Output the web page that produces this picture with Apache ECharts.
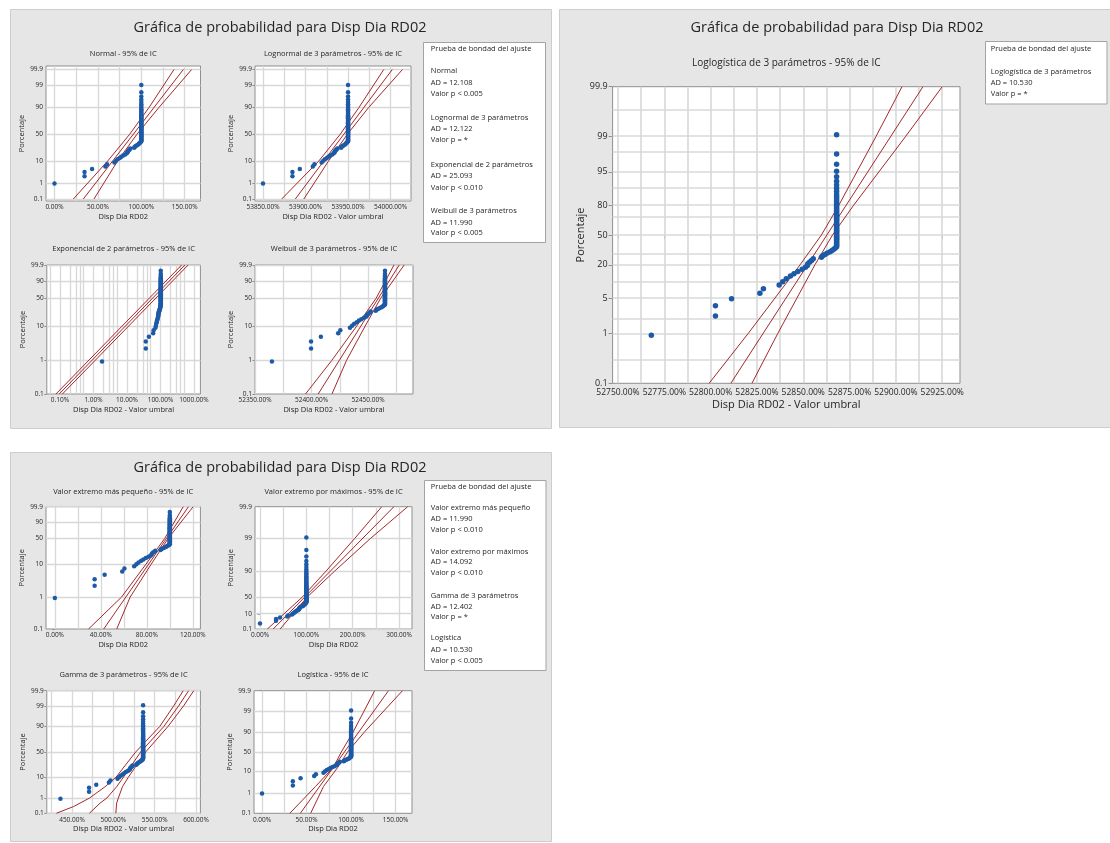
<!DOCTYPE html>
<html><head><meta charset="utf-8">
<script src="https://cdn.jsdelivr.net/npm/echarts@6/dist/echarts.min.js"></script>
<style>html,body{margin:0;padding:0;background:#fff}#c{width:1110px;height:843px}</style>
</head><body><div id="c"></div>
<script>
// ===================== DATA =====================
// Disp Dia RD02 observations (%), sorted, 75 values
const dispValues = [0,34.6,34.6,43.3,58.6,60.5,69,70.9,72.8,75.1,77,79.1,81.4,83.2,84.2,84.5,85.5,86.5,87.4,91.8,92.5,93.7,95,96.5,97.5,98.5,99.3,
 100,100,100,100,100,100,100,100,100,100,100,100,100,100,100,100,100,100,100,100,100,100,100,100,100,100,100,100,
 100,100,100,100,100,100,100,100,100,100,100,100,100,100,100,100,100,100,100,100];
// plotted percentage (median rank) of each observation
const plotPercent = [0.93,2.25,3.58,4.91,6.23,7.56,8.89,10.21,11.54,12.86,14.19,15.52,16.84,18.17,19.50,20.82,22.15,23.47,24.80,26.13,
 27.45,28.78,30.11,31.43,32.76,34.08,35.41,36.74,38.06,39.39,40.72,42.04,43.37,44.69,46.02,47.35,48.67,50.00,51.33,52.65,
 53.98,55.31,56.63,57.96,59.28,60.61,61.94,63.26,64.59,65.92,67.24,68.57,69.89,71.22,72.55,73.87,75.20,76.53,77.85,79.18,
 80.50,81.83,83.16,84.48,85.81,87.14,88.46,89.79,91.11,92.44,93.77,95.09,96.42,97.75,99.07];

// thresholds (valor umbral) per distribution, x plotted = value - threshold
const thrNormal = 0, thrLognormal = -53850, thrExpo = -1.8, thrWeibull = -52365;
const thrSEV = 0, thrLEV = 0, thrGamma = -436, thrLogistic = 0, thrLoglogistic = -52768;

// fitted lines and 95% CI bounds: [x, percent]
const normalFit = [[33.2,0.1],[148.4,99.9]];
const normalLo  = [[21.7,0.1],[61.2,10],[86.6,50],[109,90],[137.7,99.9]];
const normalHi  = [[45.5,0.1],[72.6,10],[95,50],[120.4,90],[158,99.9]];
const lognormFit = [[53888,0.1],[54002,99.9]];
const lognormLo  = [[53872,0.1],[53915.5,10],[53940.8,50],[53962.9,90],[53992,99.9]];
const lognormHi  = [[53898,0.1],[53927,10],[53949.2,50],[53974.3,90],[54014,99.9]];
const expoFit = [[0.0946,0.1],[535,99.9]];
const expoLo  = [[0.0757,0.1],[428,99.9]];
const expoHi  = [[0.118,0.1],[669,99.9]];
const weibFit = [[52405.9,0.1],[52477.6,99.9]];
const weibLo  = [[52394.7,0.1],[52418,1],[52440,10],[52457,50],[52473,99.9]];
const weibHi  = [[52418.1,0.1],[52431,1],[52447.5,10],[52461,50],[52482,99.9]];
const sevFit = [[42.5,0.1],[116.2,99.9]];
const sevLo  = [[29.3,0.1],[58,1],[79,10],[95.5,50],[111.7,99.9]];
const sevHi  = [[53.8,0.1],[65.5,1],[83.6,10],[98.5,50],[120.3,99.9]];
const levFit = [[28.5,0.1],[289,99.9]];
const levLo  = [[15.9,0.1],[91,50],[142.5,90],[204,99],[262.8,99.9]];
const levHi  = [[43.4,0.1],[101.5,50],[161,90],[238,99],[318.7,99.9]];
const gammaFit = [[471,0.1],[484,0.5],[492,1],[504,4],[512,10],[533,50],[561,90],[579,99],[591,99.9]];
const gammaLo  = [[431,0.1],[452,0.3],[471,1],[490,4],[503,10],[527,50],[556,90],[573,99],[584.5,99.9]];
const gammaHi  = [[503,0.1],[504,0.5],[506,1],[511,4],[518,10],[539,50],[566,90],[585,99],[597.3,99.9]];
const logisFit = [[43,0.1],[142,99.9]];
const logisLo  = [[31.2,0.1],[60,2],[80,15],[89,50],[102,90],[126.5,99.9]];
const logisHi  = [[54.6,0.1],[69,2],[85,15],[96,50],[114.5,90],[157.7,99.9]];
const loglogFit = [[52810.9,0.1],[52914.6,99.9]];
const loglogLo  = [[52799.2,0.1],[52820.2,1],[52848.3,20],[52859.8,50],[52869.2,80],[52889.3,99],[52903.3,99.9]];
const loglogHi  = [[52822.3,0.1],[52836.2,1],[52856.3,20],[52865.8,50],[52877.2,80],[52905.3,99],[52925,99.9]];

// tick labels
const yTicksStd = [0.1,1,10,50,90,99,99.9];
const yTicksWeib = [0.1,1,10,50,90,99.9];
const yTicksLEV = [0.1,10,50,90,99,99.9];
const yTicksLoglog = [0.1,1,5,20,50,80,95,99,99.9];
const yGridLoglog = [0.3,1,2,5,10,20,30,50,70,80,90,95,98,99,99.7];
const xTicksNormal = [0,50,100,150];
const xTicksLognormal = [53850,53900,53950,54000];
const xTicksExpo = [0.1,1,10,100,1000];
const xTicksWeibull = [52350,52400,52450];
const xTicksSEV = [0,40,80,120];
const xTicksLEV = [0,100,200,300];
const xTicksGamma = [450,500,550,600];
const xTicksLogistic = [0,50,100,150];
const xTicksLoglog = [52750,52775,52800,52825,52850,52875,52900,52925];
const xGridNormal = [0,25,50,75,100,125,150];
const xGridLognormal = [53850,53875,53900,53925,53950,53975,54000];
const xGridExpo = [0.05,0.1,0.2,0.3,0.4,0.5,1,2,3,4,5,10,20,30,40,50,100,200,300,400,500,1000];
const xGridWeibull = [52350,52375,52400,52425,52450,52475];
const xGridSEV = [0,20,40,60,80,100,120];
const xGridLEV = [0,50,100,150,200,250,300];
const xGridGamma = [425,450,475,500,525,550,575,600];
const xGridLogistic = [0,25,50,75,100,125,150];
const xGridLoglog = [52750,52762.5,52775,52787.5,52800,52812.5,52825,52837.5,52850,52862.5,52875,52887.5,52900,52912.5,52925];

// goodness-of-fit tables
const mainTitle = 'Gráfica de probabilidad para Disp Dia RD02';
const gofHeader = 'Prueba de bondad del ajuste';
const gof1Names = ['Normal','Lognormal de 3 parámetros','Exponencial de 2 parámetros','Weibull de 3 parámetros'];
const gof1AD = ['12.108','12.122','25.093','11.990'];
const gof1P = ['< 0.005','= *','< 0.010','< 0.005'];
const gof2Names = ['Loglogística de 3 parámetros'];
const gof2AD = ['10.530'];
const gof2P = ['= *'];
const gof3Names = ['Valor extremo más pequeño','Valor extremo por máximos','Gamma de 3 parámetros','Logística'];
const gof3AD = ['11.990','14.092','12.402','10.530'];
const gof3P = ['< 0.010','< 0.010','= *','< 0.005'];

// ===================== SCALES =====================
function probit(p){
 const a=[-3.969683028665376e+01,2.209460984245205e+02,-2.759285104469687e+02,1.383577518672690e+02,-3.066479806614716e+01,2.506628277459239e+00];
 const b=[-5.447609879822406e+01,1.615858368580409e+02,-1.556989798598866e+02,6.680131188771972e+01,-1.328068155288572e+01];
 const c=[-7.784894002430293e-03,-3.223964580411365e-01,-2.400758277161838e+00,-2.549732539343734e+00,4.374664141464968e+00,2.938163982698783e+00];
 const d=[7.784695709041462e-03,3.224671290700398e-01,2.445134137142996e+00,3.754408661907416e+00];
 const pl=0.02425, ph=1-pl; let q,r;
 if(p<pl){q=Math.sqrt(-2*Math.log(p));return (((((c[0]*q+c[1])*q+c[2])*q+c[3])*q+c[4])*q+c[5])/((((d[0]*q+d[1])*q+d[2])*q+d[3])*q+1);}
 if(p<=ph){q=p-0.5;r=q*q;return (((((a[0]*r+a[1])*r+a[2])*r+a[3])*r+a[4])*r+a[5])*q/(((((b[0]*r+b[1])*r+b[2])*r+b[3])*r+b[4])*r+1);}
 q=Math.sqrt(-2*Math.log(1-p));return -(((((c[0]*q+c[1])*q+c[2])*q+c[3])*q+c[4])*q+c[5])/((((d[0]*q+d[1])*q+d[2])*q+d[3])*q+1);
}
const TF = {
 norm: p => probit(p/100),
 logit: p => Math.log((p/100)/(1-p/100)),
 sev: p => Math.log(-Math.log(1-p/100)),
 lev: p => -Math.log(-Math.log(p/100))
};

// ===================== LAYOUT =====================
const FF = "'Open Sans', 'Noto Sans', sans-serif";
const TXT = '#262626';
const option = {animation:false, textStyle:{fontFamily:FF}, grid:[], xAxis:[], yAxis:[], series:[], graphic:[]};
const G = option.graphic;

// panels
G.push({type:'rect', shape:{x:10.5,y:9.5,width:541,height:419}, style:{fill:'#e6e6e6', stroke:'#cdcdcd', lineWidth:1}, z:-10});
G.push({type:'rect', shape:{x:559.5,y:9.5,width:552,height:418}, style:{fill:'#e6e6e6', stroke:'#cdcdcd', lineWidth:1}, z:-10});
G.push({type:'rect', shape:{x:10.5,y:452.5,width:541,height:389}, style:{fill:'#e6e6e6', stroke:'#cdcdcd', lineWidth:1}, z:-10});

function text(t, x, y, size, align, weight){
 G.push({type:'text', x:x, y:y, z:10, style:{text:t, fill:TXT, font:(weight||'normal')+' '+size+'px '+FF, align:align||'center', verticalAlign:'middle', textAlign:align||'center', textVerticalAlign:'middle'}});
}
text(mainTitle, 280, 28, 14.5, 'center', '500');
text(mainTitle, 837, 28, 14.5, 'center', '500');
text(mainTitle, 280, 468, 14.5, 'center', '500');

function gofBox(x, y, w, h, tx, names, ad, pv, headY, rows, size){
 G.push({type:'rect', shape:{x:x,y:y,width:w,height:h}, style:{fill:'#fff', stroke:'#a3a3a3', lineWidth:1}, z:5});
 text(gofHeader, tx, headY, size, 'left');
 names.forEach((n,i)=>{
  const r = rows[i];
  text(n, tx, r[0], size, 'left');
  text('AD = '+ad[i], tx, r[1], size, 'left');
  text('Valor p '+pv[i], tx, r[2], size, 'left');
 });
}
gofBox(423.5, 42.5, 122, 200, 430.8, gof1Names, gof1AD, gof1P, 49,
 [[71,82.7,94],[118,129,140],[165,176,187.5],[211,222.5,233.3]], 7.5);
gofBox(985.5, 41.5, 121.5, 62.5, 990.7, gof2Names, gof2AD, gof2P, 49, [[71.7,82.7,94.3]], 7.5);
gofBox(424.5, 480.5, 121.5, 190, 430.8, gof3Names, gof3AD, gof3P, 486.7,
 [[508,519,530],[551.7,562.3,573],[595.7,606.7,617],[638,649.5,660.7]], 7.5);

const fmtPct = v => Number(v).toFixed(2) + '%';

function addPlot(cfg){
 const idx = option.grid.length;
 const [l,t,r,b] = cfg.rect;
 const h = b - t;
 const tf = TF[cfg.yType];
 const y0 = tf(0.1), y1 = tf(99.9);
 const span = y1 - y0;
 const inner = h - (cfg.padTop||0) - (cfg.padBot||0);
 const yMin = y0 - (cfg.padBot||0)*span/inner, yMax = y1 + (cfg.padTop||0)*span/inner;
 const big = !!cfg.big;
 option.grid.push({left:l, top:t, width:r-l, height:h, show:true, backgroundColor:'#ffffff', borderColor:'#8f8f8f', borderWidth:1});
 option.xAxis.push({gridIndex:idx, type:cfg.xLog?'log':'value', logBase:10, min:cfg.xMin, max:cfg.xMax,
  axisLine:{show:false}, splitLine:{show:false}, minorTick:{show:false},
  axisTick:{show:true, length:big?4:2.5, customValues:cfg.xTicks, lineStyle:{color:'#8f8f8f'}},
  axisLabel:{customValues:cfg.xTicks, formatter:fmtPct, fontSize:big?8.5:6.5, color:TXT, margin:big?5:3, hideOverlap:false},
  name:cfg.xName, nameLocation:'middle', nameGap:big?16:12, nameTextStyle:{fontSize:big?11:7.5, color:TXT}});
 const yVals = cfg.yTicks.map(tf);
 option.yAxis.push({gridIndex:idx, type:'value', min:yMin, max:yMax,
  axisLine:{show:false}, splitLine:{show:false},
  axisTick:{show:true, length:big?4:2.5, customValues:yVals, lineStyle:{color:'#8f8f8f'}},
  axisLabel:{customValues:yVals, fontSize:big?9:6.5, color:TXT, margin:big?5:3, hideOverlap:false,
   formatter:v=>{let best=0,bd=1e9; yVals.forEach((yv,i)=>{const dd=Math.abs(yv-v); if(dd<bd){bd=dd;best=i;}}); return String(cfg.yTicks[best]);}},
  name:'Porcentaje', nameLocation:'middle', nameRotate:90, nameGap:big?26:18, nameTextStyle:{fontSize:big?11:7.5, color:TXT}});
 const gridData = (cfg.yGrid||cfg.yTicks).map(p=>({yAxis:tf(p)})).concat(cfg.xGrid.map(v=>({xAxis:v})));
 option.series.push({type:'line', xAxisIndex:idx, yAxisIndex:idx, data:[[cfg.xMin,yMin],[cfg.xMax,yMax]], showSymbol:false, symbol:'none',
  lineStyle:{opacity:0}, silent:true, z:1,
  markLine:{z:1, zlevel:0, silent:true, symbol:['none','none'], label:{show:false}, animation:false,
   lineStyle:{color:'#d8d8d8', width:big?1.6:1.3, type:'solid'}, emphasis:{disabled:true}, data:gridData}});
 cfg.lines.forEach(arr=>{
  option.series.push({type:'line', xAxisIndex:idx, yAxisIndex:idx, data:arr.map(([x,p])=>[x, tf(p)]), showSymbol:false, symbol:'none',
   lineStyle:{color:'#a3282b', width:1}, clip:true, silent:true, z:8});
 });
 option.series.push({type:'scatter', xAxisIndex:idx, yAxisIndex:idx,
  data:dispValues.map((v,i)=>[v - cfg.threshold, tf(plotPercent[i])]),
  symbol:'circle', symbolSize:big?5.5:4.5, itemStyle:{color:'#1d5aa6', opacity:1, borderWidth:0}, silent:true, z:10});
 text(cfg.title, (l+r)/2, cfg.titleY, big?10:7.5);
}

addPlot({rect:[46,66,200.5,201], padTop:3.5, padBot:2, yType:'norm', yTicks:yTicksStd, xMin:-9.8, xMax:168.2,
 xTicks:xTicksNormal, xGrid:xGridNormal, threshold:thrNormal, lines:[normalLo,normalFit,normalHi],
 title:'Normal - 95% de IC', titleY:54, xName:'Disp Dia RD02'});
addPlot({rect:[255,66,411,201], padTop:3.5, padBot:2, yType:'norm', yTicks:yTicksStd, xMin:53840.6, xMax:54024,
 xTicks:xTicksLognormal, xGrid:xGridLognormal, threshold:thrLognormal, lines:[lognormLo,lognormFit,lognormHi],
 title:'Lognormal de 3 parámetros - 95% de IC', titleY:54, xName:'Disp Dia RD02 - Valor umbral'});
addPlot({rect:[46.8,265,200.4,394], yType:'sev', yTicks:yTicksWeib, xLog:true, xMin:0.0404, xMax:1552,
 xTicks:xTicksExpo, xGrid:xGridExpo, threshold:thrExpo, lines:[expoLo,expoFit,expoHi],
 title:'Exponencial de 2 parámetros - 95% de IC', titleY:249.3, xName:'Disp Dia RD02 - Valor umbral'});
addPlot({rect:[255,265,413,394], yType:'sev', yTicks:yTicksWeib, xMin:52350, xMax:52489.8,
 xTicks:xTicksWeibull, xGrid:xGridWeibull, threshold:thrWeibull, lines:[weibLo,weibFit,weibHi],
 title:'Weibull de 3 parámetros - 95% de IC', titleY:249.3, xName:'Disp Dia RD02 - Valor umbral'});
addPlot({rect:[46,506.7,200.4,629], yType:'sev', yTicks:yTicksWeib, xMin:-7.7, xMax:126.6,
 xTicks:xTicksSEV, xGrid:xGridSEV, threshold:thrSEV, lines:[sevLo,sevFit,sevHi],
 title:'Valor extremo más pequeño - 95% de IC', titleY:492.3, xName:'Disp Dia RD02'});
addPlot({rect:[255,506.7,412,629], yType:'lev', yTicks:yTicksLEV, xMin:-10.8, xMax:328,
 xTicks:xTicksLEV, xGrid:xGridLEV, threshold:thrLEV, lines:[levLo,levFit,levHi],
 title:'Valor extremo por máximos - 95% de IC', titleY:492.3, xName:'Disp Dia RD02'});
addPlot({rect:[46.8,690.7,200.4,813.3], yType:'norm', yTicks:yTicksStd, xMin:419.5, xMax:605.3,
 xTicks:xTicksGamma, xGrid:xGridGamma, threshold:thrGamma, lines:[gammaLo,gammaFit,gammaHi],
 title:'Gamma de 3 parámetros - 95% de IC', titleY:675, xName:'Disp Dia RD02 - Valor umbral'});
addPlot({rect:[254,690.7,412,813.3], yType:'logit', yTicks:yTicksStd, xMin:-9, xMax:168.4,
 xTicks:xTicksLogistic, xGrid:xGridLogistic, threshold:thrLogistic, lines:[logisLo,logisFit,logisHi],
 title:'Logística - 95% de IC', titleY:675, xName:'Disp Dia RD02'});
addPlot({rect:[612.6,86.7,960,383.3], big:true, yType:'logit', yTicks:yTicksLoglog, yGrid:yGridLoglog, xMin:52747.1, xMax:52934.6,
 xTicks:xTicksLoglog, xGrid:xGridLoglog, threshold:thrLoglogistic, lines:[loglogLo,loglogFit,loglogHi],
 title:'Loglogística de 3 parámetros - 95% de IC', titleY:63.3, xName:'Disp Dia RD02 - Valor umbral'});

const chart = echarts.init(document.getElementById('c'), null, {renderer:'canvas'});
chart.setOption(option);
</script></body></html>
